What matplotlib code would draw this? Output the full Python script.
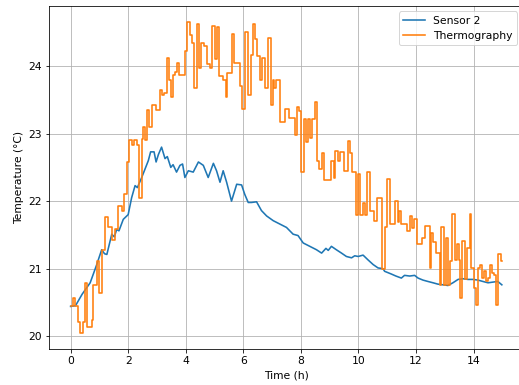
import matplotlib
matplotlib.use("Agg")
import matplotlib.pyplot as plt

# Sensor 2 readings (time in hours, temperature in degC)
sensor_t = [0.00, 0.17, 0.40, 0.68, 0.90, 1.08, 1.18, 1.26, 1.43, 1.52, 1.60, 1.68, 1.83,
            2.00, 2.12, 2.24, 2.32, 2.47, 2.59, 2.70, 2.78, 2.90, 2.97, 3.05, 3.16, 3.28,
            3.36, 3.48, 3.56, 3.68, 3.80, 3.89, 3.97, 4.09, 4.26, 4.44, 4.61, 4.78, 4.96,
            5.07, 5.19, 5.30, 5.42, 5.59, 5.77, 5.94, 6.05, 6.17, 6.28, 6.46, 6.63, 6.81,
            7.04, 7.27, 7.50, 7.73, 7.90, 8.08, 8.31, 8.54, 8.72, 8.87, 8.95, 9.06, 9.23,
            9.41, 9.58, 9.76, 9.87, 9.99, 10.16, 10.33, 10.51, 10.68, 10.85, 10.91, 11.14,
            11.30, 11.49, 11.60, 11.78, 11.95, 12.07, 12.24, 12.41, 12.59, 12.76, 12.94,
            13.11, 13.28, 13.46, 13.63, 13.80, 13.98, 14.15, 14.32, 14.50, 14.67, 14.84, 14.98]
sensor_v = [20.44, 20.45, 20.62, 20.79, 21.05, 21.28, 21.22, 21.21, 21.51, 21.47, 21.58, 21.56, 21.73,
            21.80, 22.05, 22.23, 22.20, 22.35, 22.48, 22.60, 22.73, 22.73, 22.58, 22.69, 22.80, 22.63,
            22.66, 22.50, 22.54, 22.43, 22.53, 22.55, 22.35, 22.45, 22.43, 22.58, 22.53, 22.35, 22.56,
            22.45, 22.28, 22.45, 22.28, 22.00, 22.25, 22.24, 22.10, 21.98, 21.98, 21.99, 21.86, 21.78,
            21.71, 21.66, 21.61, 21.51, 21.49, 21.38, 21.33, 21.28, 21.23, 21.30, 21.27, 21.33, 21.28,
            21.23, 21.18, 21.16, 21.19, 21.18, 21.20, 21.13, 21.06, 21.01, 21.00, 20.96, 20.92,
            20.89, 20.86, 20.90, 20.89, 20.90, 20.86, 20.83, 20.81, 20.79, 20.77, 20.76,
            20.75, 20.79, 20.84, 20.85, 20.84, 20.84, 20.83, 20.81, 20.79, 20.80, 20.81, 20.76]

# Thermography readings, held between updates (step changes)
thermo_t = [0.00, 0.08, 0.16, 0.24, 0.33, 0.43, 0.50, 0.58, 0.73, 0.79, 0.91, 1.00, 1.08,
            1.20, 1.30, 1.43, 1.53, 1.66, 1.77, 1.86, 1.95, 2.03, 2.12, 2.20, 2.30, 2.39,
            2.47, 2.53, 2.59, 2.67, 2.74, 2.82, 2.98, 3.10, 3.16, 3.24, 3.34, 3.42, 3.49,
            3.55, 3.62, 3.71, 3.78, 3.97, 4.05, 4.14, 4.22, 4.30, 4.38, 4.47, 4.52, 4.63,
            4.73, 4.84, 4.92, 5.00, 5.07, 5.16, 5.30, 5.39, 5.45, 5.60, 5.68, 5.88, 5.97,
            6.05, 6.17, 6.25, 6.32, 6.40, 6.48, 6.58, 6.66, 6.75, 6.86, 6.95, 7.02, 7.08,
            7.15, 7.29, 7.44, 7.60, 7.79, 7.87, 7.95, 8.02, 8.10, 8.17, 8.25, 8.33, 8.40,
            8.48, 8.56, 8.63, 8.72, 8.80, 9.06, 9.15, 9.20, 9.28, 9.35, 9.50, 9.62, 9.72,
            9.79, 9.91, 9.99, 10.05, 10.14, 10.22, 10.28, 10.40, 10.53, 10.65, 10.80, 10.91,
            10.99, 11.09, 11.26, 11.36, 11.41, 11.49, 11.69, 11.78, 11.86, 11.93, 12.05,
            12.19, 12.30, 12.47, 12.53, 12.60, 12.68, 12.82, 12.88, 12.96, 13.03, 13.10,
            13.17, 13.26, 13.36, 13.42, 13.50, 13.54, 13.60, 13.69, 13.77, 13.86, 13.92,
            14.00, 14.07, 14.15, 14.21, 14.28, 14.35, 14.42, 14.49, 14.56, 14.65, 14.72,
            14.76, 14.84, 14.96, 15.00]
thermo_v = [20.44, 20.56, 20.44, 20.21, 20.04, 20.21, 20.79, 20.14, 20.24, 20.76, 21.11, 20.64, 21.28,
            21.76, 21.62, 21.43, 21.58, 21.93, 21.86, 22.10, 22.58, 22.90, 22.83, 22.90, 22.83, 22.05,
            22.92, 23.10, 22.90, 23.35, 23.10, 23.42, 23.35, 23.65, 23.57, 23.60, 24.12, 23.80, 23.55,
            23.87, 23.92, 24.04, 23.87, 24.22, 24.66, 24.46, 24.35, 23.67, 24.62, 23.97, 24.35, 24.30,
            24.03, 23.97, 24.59, 24.10, 24.58, 23.85, 23.80, 23.55, 23.90, 24.48, 24.05, 23.70, 23.36,
            24.50, 23.57, 24.16, 24.62, 24.40, 24.15, 23.80, 24.12, 23.68, 24.41, 23.42, 23.80, 23.68,
            23.80, 23.17, 23.37, 23.23, 22.98, 23.40, 23.33, 22.43, 23.22, 22.88, 23.22, 22.94, 23.22,
            23.47, 22.60, 22.48, 22.71, 22.31, 22.60, 22.35, 22.75, 22.60, 22.73, 22.45, 22.89, 22.71,
            22.43, 21.80, 22.40, 21.80, 21.97, 21.80, 22.43, 21.85, 21.70, 22.05, 20.99, 21.61,
            22.33, 21.66, 22.00, 21.69, 21.86, 21.66, 21.56, 21.78, 21.60, 21.73, 21.36,
            21.46, 21.63, 21.01, 21.53, 21.40, 21.23, 20.76, 21.61, 20.76, 21.46, 20.76,
            21.11, 21.81, 21.13, 21.36, 21.13, 20.56, 21.41, 20.84, 21.31, 21.81, 21.01,
            20.71, 20.46, 21.01, 21.06, 20.86, 20.96, 20.82, 20.86, 21.06, 20.94, 20.90,
            20.46, 21.21, 21.11, 21.11]

plt.rcParams["font.size"] = 10.8

fig = plt.figure(figsize=(519 / 72, 385 / 72), dpi=72)
# axes run slightly past the right edge, like the cropped original
ax = fig.add_axes([49 / 519, 36 / 385, 475 / 519, 343 / 385])

ax.plot(sensor_t, sensor_v, color="#1f77b4", lw=1.6, label="Sensor 2")
ax.plot(thermo_t, thermo_v, color="#ff7f0e", lw=1.6, drawstyle="steps-post", label="Thermography")

ax.set_xlabel("Time (h)")
ax.set_ylabel("Temperature (°C)")
ax.grid(True)
ax.legend(loc="upper right", bbox_to_anchor=(0.997, 1.0))

fig.savefig("out.png", dpi=72)
